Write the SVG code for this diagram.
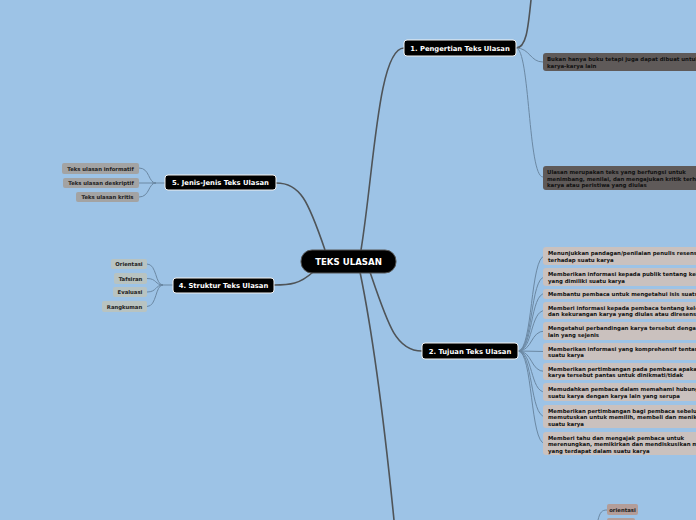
<svg xmlns="http://www.w3.org/2000/svg" width="696" height="520" viewBox="0 0 696 520">
<style>
text{font-family:"DejaVu Sans",Verdana,sans-serif;font-weight:bold}
.main{fill:#000;stroke:#f2f2f2;stroke-width:1}
.mt{fill:#fff;font-size:6.8px;text-anchor:middle}
.c1{fill:none;stroke:#4f5458;stroke-width:1.6}
.c2{fill:none;stroke:#6b88a3;stroke-width:1}
.dk{fill:#5f5a59}
.tj{fill:#cac1be}
.gr{fill:#a3a3a3}
.st{fill:#b8c3c1}
.br{fill:#b39d99}
.st1{fill:#111;font-size:5.4px}
.sm{fill:#222;font-size:5.3px;text-anchor:middle}
</style>
<rect width="696" height="520" fill="#9dc3e6"/>
<g id="connectors">
<path class="c1" d="M361,250 C374,170 378,48 404,48"/>
<path class="c1" d="M370,272 C388,325 396,351 422,351"/>
<path class="c1" d="M360,272 C372,330 385,430 394,520"/>
<path class="c1" d="M325,250 C308,200 300,183 276,183"/>
<path class="c1" d="M313,272 C300,284 290,285 274,285"/>
<path class="c1" d="M516,48 C526,48 528,30 531,0"/>
<path class="c2" d="M516,48 C530,48 530,62 543,62"/>
<path class="c2" d="M516,48 C530,48 528,177 543,177"/>
<path class="c2" d="M518,351 C533,351 530,256 545,256"/>
<path class="c2" d="M518,351 C533,351 530,277 545,277"/>
<path class="c2" d="M518,351 C533,351 530,293.5 545,293.5"/>
<path class="c2" d="M518,351 C533,351 530,310.5 545,310.5"/>
<path class="c2" d="M518,351 C533,351 530,331 545,331"/>
<path class="c2" d="M518,351 L545,351.5"/>
<path class="c2" d="M518,351 C533,351 530,371.5 545,371.5"/>
<path class="c2" d="M518,351 C533,351 530,392 545,392"/>
<path class="c2" d="M518,351 C533,351 530,416.5 545,416.5"/>
<path class="c2" d="M518,351 C533,351 530,443.5 545,443.5"/>
<path class="c2" d="M139,168 C150,168 148,183 156,183"/>
<path class="c2" d="M139,183 L156,183"/>
<path class="c2" d="M139,197 C150,197 148,183 156,183"/>
<path class="c2" d="M152,183 L165,183" stroke-width="2"/>
<path class="c2" d="M147,264 C157,264 155,285 163,285"/>
<path class="c2" d="M147,278.5 C157,278.5 155,285 163,285"/>
<path class="c2" d="M147,292 C157,292 155,285 163,285"/>
<path class="c2" d="M147,306.5 C157,306.5 155,285 163,285"/>
<path class="c2" d="M160,285 L173,285" stroke-width="2"/>
<path class="c2" d="M598,520 C600,512 602,510 607,510"/>
</g>
<g id="central">
<rect x="301" y="250" width="95" height="23" rx="11" fill="#000" stroke="#555" stroke-width="1"/>
<text x="348.5" y="265" fill="#fff" font-size="8.6" text-anchor="middle">TEKS ULASAN</text>
</g>
<g id="n1">
<rect class="main" x="404" y="40" width="112" height="16" rx="3"/>
<text class="mt" x="460" y="50.5">1. Pengertian Teks Ulasan</text>
</g>
<g id="n2">
<rect class="main" x="422" y="343" width="96" height="16" rx="3"/>
<text class="mt" x="470" y="353.5">2. Tujuan Teks Ulasan</text>
</g>
<g id="n4">
<rect class="main" x="173" y="278" width="101" height="15" rx="3"/>
<text class="mt" x="223.5" y="288">4. Struktur Teks Ulasan</text>
</g>
<g id="n5">
<rect class="main" x="165" y="175" width="111" height="15" rx="3"/>
<text class="mt" x="220.5" y="185">5. Jenis-Jenis Teks Ulasan</text>
</g>
<g id="n1a">
<rect class="dk" x="543" y="53" width="170" height="18" rx="3"/>
<text class="st1" x="547" y="61">Bukan hanya buku tetapi juga dapat dibuat untuk</text>
<text class="st1" x="547" y="67.5">karya-karya lain</text>
</g>
<g id="n1b">
<rect class="dk" x="543" y="166" width="170" height="24" rx="3"/>
<text class="st1" x="547" y="174">Ulasan merupakan teks yang berfungsi untuk</text>
<text class="st1" x="547" y="180.5">menimbang, menilai, dan mengajukan kritik terhadap</text>
<text class="st1" x="547" y="187">karya atau peristiwa yang diulas</text>
</g>
<g id="t1">
<rect class="tj" x="543" y="247" width="170" height="18" rx="3"/>
<text class="st1" x="548" y="255">Menunjukkan pandagan/penilaian penulis resensi</text>
<text class="st1" x="548" y="261.5">terhadap suatu karya</text>
</g>
<g id="t2">
<rect class="tj" x="543" y="268" width="170" height="18" rx="3"/>
<text class="st1" x="548" y="276">Memberikan informasi kepada publik tentang kelebihan</text>
<text class="st1" x="548" y="282.5">yang dimiliki suatu karya</text>
</g>
<g id="t3">
<rect class="tj" x="543" y="289" width="170" height="10" rx="3"/>
<text class="st1" x="548" y="296">Membantu pembaca untuk mengetahui isis suatu karya</text>
</g>
<g id="t4">
<rect class="tj" x="543" y="302" width="170" height="17" rx="3"/>
<text class="st1" x="548" y="309.5">Memberi informasi kepada pembaca tentang kelebihan</text>
<text class="st1" x="548" y="316">dan kekurangan karya yang diulas atau diresensi</text>
</g>
<g id="t5">
<rect class="tj" x="543" y="322" width="170" height="18" rx="3"/>
<text class="st1" x="548" y="330">Mengetahui perbandingan karya tersebut dengan karya</text>
<text class="st1" x="548" y="336.5">lain yang sejenis</text>
</g>
<g id="t6">
<rect class="tj" x="543" y="343" width="170" height="17" rx="3"/>
<text class="st1" x="548" y="350.5">Memberikan informasi yang komprehensif tentang</text>
<text class="st1" x="548" y="357">suatu karya</text>
</g>
<g id="t7">
<rect class="tj" x="543" y="363" width="170" height="17" rx="3"/>
<text class="st1" x="548" y="370.5">Memberikan pertimbangan pada pembaca apakah</text>
<text class="st1" x="548" y="377">karya tersebut pantas untuk dinikmati/tidak</text>
</g>
<g id="t8">
<rect class="tj" x="543" y="383" width="170" height="18" rx="3"/>
<text class="st1" x="548" y="391">Memudahkan pembaca dalam memahami hubungan</text>
<text class="st1" x="548" y="397.5">suatu karya dengan karya lain yang serupa</text>
</g>
<g id="t9">
<rect class="tj" x="543" y="405" width="170" height="23" rx="3"/>
<text class="st1" x="548" y="412.5">Memberikan pertimbangan bagi pembaca sebelum</text>
<text class="st1" x="548" y="419">memutuskan untuk memilih, membeli dan menikmati</text>
<text class="st1" x="548" y="425.5">suatu karya</text>
</g>
<g id="t10">
<rect class="tj" x="543" y="432" width="170" height="23" rx="3"/>
<text class="st1" x="548" y="439.5">Memberi tahu dan mengajak pembaca untuk</text>
<text class="st1" x="548" y="446">merenungkan, memikirkan dan mendiskusikan masalah</text>
<text class="st1" x="548" y="452.5">yang terdapat dalam suatu karya</text>
</g>
<g id="j1">
<rect class="gr" x="62" y="163" width="77" height="11" rx="2"/>
<text class="sm" x="100.5" y="170.5">Teks ulasan informatif</text>
</g>
<g id="j2">
<rect class="gr" x="63" y="178" width="76" height="10" rx="2"/>
<text class="sm" x="101" y="185">Teks ulasan deskriptif</text>
</g>
<g id="j3">
<rect class="gr" x="76" y="192" width="63" height="10" rx="2"/>
<text class="sm" x="107.5" y="199">Teks ulasan kritis</text>
</g>
<g id="s1">
<rect class="st" x="111" y="259" width="36" height="10" rx="2"/>
<text class="sm" x="129" y="266">Orientasi</text>
</g>
<g id="s2">
<rect class="st" x="114" y="273" width="33" height="11" rx="2"/>
<text class="sm" x="130.5" y="280.5">Tafsiran</text>
</g>
<g id="s3">
<rect class="st" x="113" y="287" width="34" height="10" rx="2"/>
<text class="sm" x="130" y="294">Evaluasi</text>
</g>
<g id="s4">
<rect class="st" x="102" y="301" width="45" height="11" rx="2"/>
<text class="sm" x="124.5" y="308.5">Rangkuman</text>
</g>
<g id="b1">
<rect class="br" x="607" y="504" width="31" height="11" rx="2"/>
<text class="sm" x="622.5" y="511.5">orientasi</text>
</g>
<g id="b2">
<rect class="br" x="607" y="518" width="28" height="10" rx="2"/>
</g>
</svg>
